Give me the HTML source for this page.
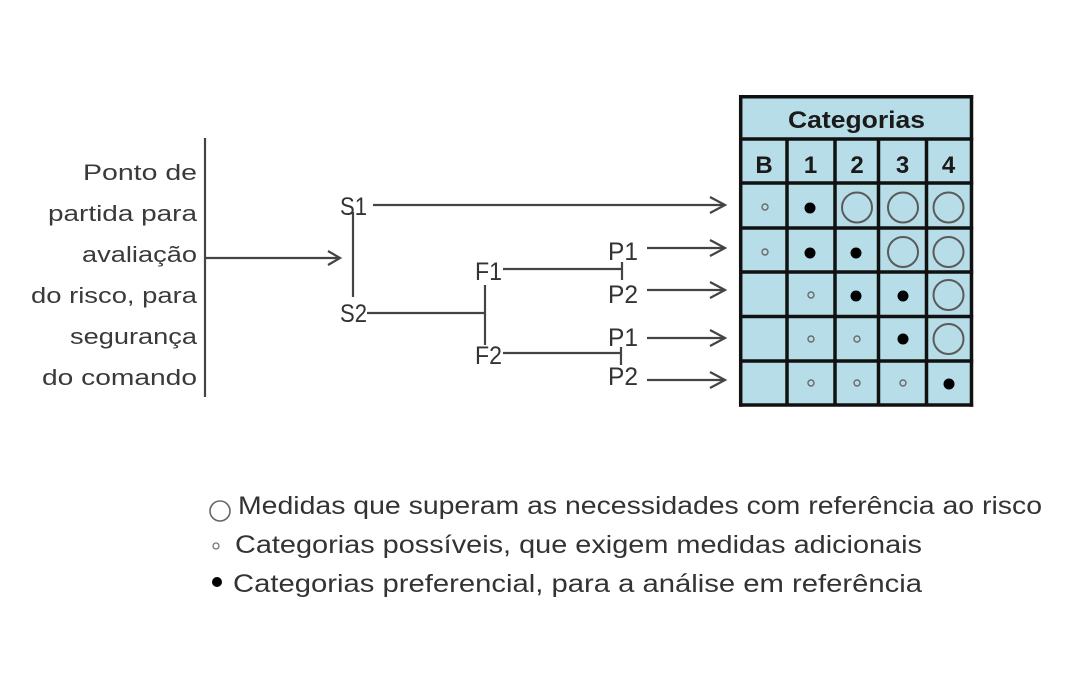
<!DOCTYPE html>
<html>
<head>
<meta charset="utf-8">
<style>
  html,body{margin:0;padding:0;background:#ffffff;}
  body{width:1080px;height:700px;overflow:hidden;}
  svg{display:block;}
  .lt{font-family:"Liberation Sans",sans-serif;font-size:22px;fill:#3a3a3a;}
  .lb{font-family:"Liberation Sans",sans-serif;font-size:25px;fill:#333;}
  .lg{font-family:"Liberation Sans",sans-serif;font-size:25px;fill:#333;}
  .tb{font-family:"Liberation Sans",sans-serif;font-size:24px;font-weight:bold;fill:#1a1a1a;}
</style>
</head>
<body>
<svg width="1080" height="700" viewBox="0 0 1080 700" xmlns="http://www.w3.org/2000/svg">
  <rect x="0" y="0" width="1080" height="700" fill="#ffffff"/>

  <!-- Left text -->
  <text class="lt" x="83" y="180" textLength="114" lengthAdjust="spacingAndGlyphs">Ponto de</text>
  <text class="lt" x="48" y="221" textLength="149" lengthAdjust="spacingAndGlyphs">partida para</text>
  <text class="lt" x="82" y="262" textLength="115" lengthAdjust="spacingAndGlyphs">avaliação</text>
  <text class="lt" x="31" y="303" textLength="166" lengthAdjust="spacingAndGlyphs">do risco, para</text>
  <text class="lt" x="70" y="344" textLength="127" lengthAdjust="spacingAndGlyphs">segurança</text>
  <text class="lt" x="42" y="385" textLength="155" lengthAdjust="spacingAndGlyphs">do comando</text>

  <g stroke="#444" stroke-width="2.2" fill="none" stroke-linecap="butt">
    <line x1="205" y1="138" x2="205" y2="397"/>
    <line x1="205" y1="258" x2="339" y2="258"/>
    <polyline points="328,251 340,258 328,265"/>
    <line x1="373" y1="205" x2="724" y2="205"/>
    <polyline points="710,197 725,205 710,213"/>
    <line x1="353" y1="212" x2="353" y2="297"/>
    <line x1="367" y1="313" x2="485" y2="313"/>
    <line x1="485" y1="285" x2="485" y2="345"/>
    <line x1="503" y1="269" x2="622" y2="269"/>
    <line x1="622" y1="262" x2="622" y2="280"/>
    <line x1="503" y1="353" x2="621" y2="353"/>
    <line x1="621" y1="347" x2="621" y2="365"/>
    <line x1="647" y1="248" x2="724" y2="248"/>
    <polyline points="710,240 725,248 710,256"/>
    <line x1="647" y1="290" x2="724" y2="290"/>
    <polyline points="710,282 725,290 710,298"/>
    <line x1="647" y1="338" x2="724" y2="338"/>
    <polyline points="710,330 725,338 710,346"/>
    <line x1="647" y1="380" x2="724" y2="380"/>
    <polyline points="710,372 725,380 710,388"/>
  </g>

  <!-- Diagram labels -->
  <text class="lb" x="340" y="215" textLength="27" lengthAdjust="spacingAndGlyphs">S1</text>
  <text class="lb" x="340" y="322" textLength="27" lengthAdjust="spacingAndGlyphs">S2</text>
  <text class="lb" x="475" y="280" textLength="27" lengthAdjust="spacingAndGlyphs">F1</text>
  <text class="lb" x="475" y="364" textLength="27" lengthAdjust="spacingAndGlyphs">F2</text>
  <text class="lb" x="608" y="260" textLength="30" lengthAdjust="spacingAndGlyphs">P1</text>
  <text class="lb" x="608" y="303" textLength="30" lengthAdjust="spacingAndGlyphs">P2</text>
  <text class="lb" x="608" y="346" textLength="30" lengthAdjust="spacingAndGlyphs">P1</text>
  <text class="lb" x="608" y="385" textLength="30" lengthAdjust="spacingAndGlyphs">P2</text>

  <!-- Table -->
  <rect x="740.7" y="96.7" width="230.8" height="308.3" fill="#b7dde8"/>
  <g stroke="#111" stroke-width="3.5" fill="none">
    <line x1="739" y1="96.7" x2="973.2" y2="96.7"/>
    <line x1="739" y1="139" x2="973.2" y2="139"/>
    <line x1="739" y1="183" x2="973.2" y2="183"/>
    <line x1="739" y1="228" x2="973.2" y2="228"/>
    <line x1="739" y1="272" x2="973.2" y2="272"/>
    <line x1="739" y1="316.5" x2="973.2" y2="316.5"/>
    <line x1="739" y1="361" x2="973.2" y2="361"/>
    <line x1="739" y1="405" x2="973.2" y2="405"/>
    <line x1="740.7" y1="95" x2="740.7" y2="406.7"/>
    <line x1="971.5" y1="95" x2="971.5" y2="406.7"/>
    <line x1="787" y1="139" x2="787" y2="405"/>
    <line x1="835" y1="139" x2="835" y2="405"/>
    <line x1="878.5" y1="139" x2="878.5" y2="405"/>
    <line x1="926.5" y1="139" x2="926.5" y2="405"/>
  </g>
  <text class="tb" x="788" y="128" textLength="137" lengthAdjust="spacingAndGlyphs">Categorias</text>
  <text class="tb" x="764" y="173" text-anchor="middle">B</text>
  <text class="tb" x="810.5" y="173" text-anchor="middle">1</text>
  <text class="tb" x="857" y="173" text-anchor="middle">2</text>
  <text class="tb" x="902.5" y="173" text-anchor="middle">3</text>
  <text class="tb" x="948.5" y="173" text-anchor="middle">4</text>

  <!-- Table symbols -->
  <g>
    <g fill="none" stroke="#6a6a6a" stroke-width="1.4">
      <circle cx="765" cy="207" r="3"/>
      <circle cx="765" cy="252" r="3"/>
      <circle cx="811" cy="295" r="3"/>
      <circle cx="811" cy="339" r="3"/>
      <circle cx="857" cy="339" r="3"/>
      <circle cx="811" cy="383" r="3"/>
      <circle cx="857" cy="383" r="3"/>
      <circle cx="903" cy="383" r="3"/>
    </g>
    <g fill="#000">
      <circle cx="810" cy="208" r="5.5"/>
      <circle cx="810" cy="253" r="5.5"/>
      <circle cx="856" cy="253" r="5.5"/>
      <circle cx="856" cy="296" r="5.5"/>
      <circle cx="903" cy="296" r="5.5"/>
      <circle cx="903" cy="339" r="5.5"/>
      <circle cx="949" cy="384" r="5.5"/>
    </g>
    <g fill="none" stroke="#5a5a5a" stroke-width="2">
      <circle cx="857" cy="207.5" r="15"/>
      <circle cx="903" cy="207.5" r="15"/>
      <circle cx="948.5" cy="207.5" r="15"/>
      <circle cx="903" cy="252" r="15"/>
      <circle cx="948.5" cy="252" r="15"/>
      <circle cx="948.5" cy="295" r="15"/>
      <circle cx="948.5" cy="339" r="15"/>
    </g>
  </g>

  <!-- Legend -->
  <circle cx="220" cy="511" r="10" fill="none" stroke="#666" stroke-width="1.6"/>
  <text class="lg" x="238" y="514" textLength="804" lengthAdjust="spacingAndGlyphs">Medidas que superam as necessidades com referência ao risco</text>
  <circle cx="216" cy="546" r="3" fill="none" stroke="#777" stroke-width="1.3"/>
  <text class="lg" x="235" y="553" textLength="687" lengthAdjust="spacingAndGlyphs">Categorias possíveis, que exigem medidas adicionais</text>
  <circle cx="217" cy="582" r="5" fill="#000"/>
  <text class="lg" x="233" y="592" textLength="689" lengthAdjust="spacingAndGlyphs">Categorias preferencial, para a análise em referência</text>
</svg>
</body>
</html>
